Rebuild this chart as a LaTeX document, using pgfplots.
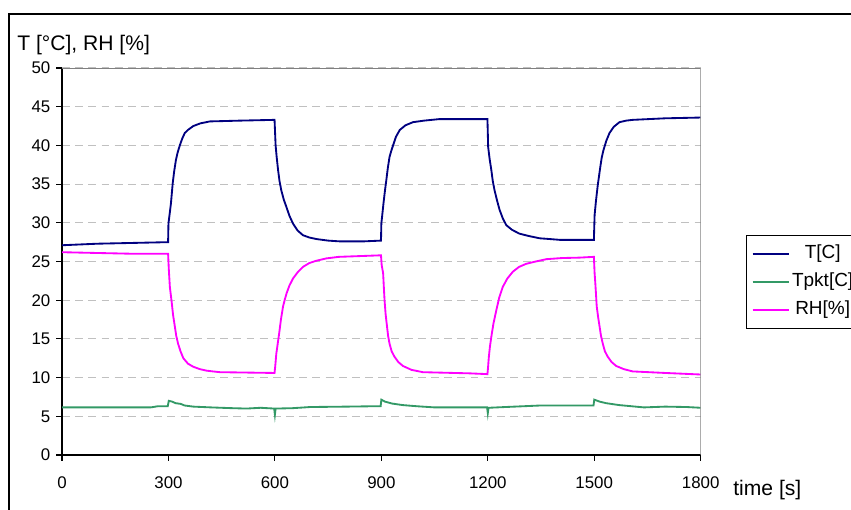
\documentclass[border=0pt]{standalone}
\usepackage{fontspec}
\setmainfont{Liberation Sans}
\usepackage{pgfplots}
\pgfplotsset{compat=1.18}
\usepackage{xcolor}
\definecolor{tnavy}{HTML}{000080}
\definecolor{tgreen}{HTML}{339966}
\definecolor{rhmag}{HTML}{FF00FF}
\definecolor{gridg}{HTML}{C0C0C0}
\definecolor{frameg}{HTML}{808080}

\pgfplotstableread{
t T
0 27.1
50 27.2
100 27.3
200 27.4
299 27.5
300 29.9
303 31.0
307 32.5
312 35.1
316 36.6
321 38.1
326 39.1
332 40.0
339 40.9
346 41.6
355 42.0
370 42.5
390 42.85
417 43.1
460 43.15
500 43.2
599 43.3
602 40.0
605 38.5
609 36.8
613 35.4
618 34.2
625 33.0
632 32.1
641 30.9
651 29.9
664 29.0
679 28.4
697 28.1
717 27.9
750 27.7
783 27.6
850 27.6
899 27.7
900 29.9
903 31.2
906 32.5
910 34.1
914 35.5
918 37.0
923 38.5
928 39.3
933 40.0
941 41.1
952 42.0
968 42.6
989 43.0
1020 43.2
1064 43.4
1199 43.4
1201 39.8
1205 38.3
1210 36.8
1214 35.4
1219 34.2
1226 32.9
1233 31.7
1242 30.6
1252 29.7
1268 29.1
1289 28.6
1315 28.3
1346 28.0
1375 27.9
1402 27.8
1499 27.8
1501 31.0
1505 32.9
1510 34.9
1517 37.2
1521 38.4
1526 39.4
1534 40.6
1543 41.6
1555 42.4
1571 43.0
1590 43.2
1608 43.3
1700 43.5
1800 43.6
}\tdata

\pgfplotstableread{
t Tp
0 6.15
100 6.15
250 6.15
270 6.3
298 6.3
301 7.0
310 6.9
320 6.7
335 6.6
345 6.4
370 6.25
420 6.15
480 6.05
520 6.0
560 6.1
598 6.0
600 5.2
602 6.0
650 6.05
700 6.2
800 6.25
880 6.3
898 6.3
900 7.15
910 6.9
930 6.65
960 6.45
1000 6.3
1050 6.15
1150 6.15
1198 6.15
1200 5.4
1202 6.1
1250 6.2
1300 6.3
1350 6.4
1450 6.4
1498 6.4
1500 7.15
1515 6.9
1533 6.7
1570 6.45
1640 6.15
1700 6.25
1760 6.2
1800 6.1
}\tpdata

\pgfplotstableread{
t RH
0 26.2
100 26.1
200 26.0
299 26.0
301 24.0
304 21.7
309 19.8
313 18.1
318 16.6
322 15.4
327 14.4
334 13.4
342 12.5
355 11.8
370 11.4
388 11.1
407 10.9
425 10.8
445 10.7
599 10.6
601 11.5
604 13.1
608 14.4
612 15.7
617 17.5
623 19.2
628 20.1
633 20.9
641 21.9
651 22.8
664 23.6
679 24.3
697 24.8
717 25.1
745 25.4
780 25.6
899 25.8
901 24.5
905 23.5
907 21.7
909 20.0
912 18.2
916 16.6
919 15.4
923 14.4
929 13.4
937 12.7
948 12.0
961 11.5
985 11.0
1017 10.7
1149 10.55
1199 10.45
1201 11.5
1203 12.7
1206 14.0
1210 15.3
1216 17.0
1224 18.7
1232 20.3
1242 21.7
1255 22.8
1271 23.7
1288 24.3
1308 24.7
1335 25.0
1365 25.3
1410 25.45
1458 25.5
1499 25.6
1501 23.5
1503 22.2
1505 20.7
1507 19.2
1511 17.8
1515 16.6
1519 15.4
1524 14.4
1530 13.4
1538 12.7
1549 12.0
1562 11.5
1583 11.1
1608 10.8
1700 10.6
1800 10.4
}\rhdata

\begin{document}
\begin{tikzpicture}
\useasboundingbox (0,0) rectangle (17.02cm,10.18cm);
% outer chart frame, running off the right and bottom edges
\draw[black, line width=0.6pt] (0.18cm,-1cm) -- (0.18cm,9.90cm) -- (18cm,9.90cm);
\node[anchor=west, inner sep=0pt, font=\fontsize{12}{14}\selectfont] at (0.34cm,9.28cm) {T [°C], RH [\%]};
\node[anchor=west, inner sep=0pt, font=\fontsize{12}{14}\selectfont] at (14.66cm,0.38cm) {time [s]};
\begin{axis}[
  at={(1.24cm,1.08cm)}, anchor=south west,
  scale only axis, width=12.774cm, height=7.74cm,
  xmin=0, xmax=1800, ymin=0, ymax=50,
  xtick={0,300,...,1800}, ytick={0,5,...,50},
  axis x line*=bottom, axis y line*=left,
  axis line style={-, black, line width=0.6pt},
  tick align=outside, major tick length=0.11cm,
  tick style={black, line width=0.6pt},
  ymajorgrids,
  major grid style={gridg, line width=0.6pt, dash pattern=on 4.5pt off 3pt},
  tick label style={font=\fontsize{9.6}{11}\selectfont},
  /pgf/number format/assume math mode=true,
  /pgf/number format/1000 sep={},
  xticklabel style={yshift=-0.2cm},
  legend style={at={(1.0709,0.5685)}, anchor=north west,
    draw=black, line width=0.6pt, font=\fontsize{10.8}{12.5}\selectfont,
    inner xsep=3pt, inner ysep=4pt, row sep=3pt,
    nodes={text height=7.8pt, text depth=2.3pt, inner sep=1.4pt}},
  legend cell align=center,
  legend image code/.code={\draw[#1] (0cm,0cm) -- (0.72cm,0cm);},
]
\addplot[tnavy, line width=1.05pt] table[x=t, y=T] {\tdata};
\addlegendentry{T[C]}
\addplot[tgreen, line width=1.05pt] table[x=t, y=Tp] {\tpdata};
\addlegendentry{Tpkt[C]}
\addplot[rhmag, line width=1.05pt] table[x=t, y=RH] {\rhdata};
\addlegendentry{RH[\%]}
\draw[frameg, line width=0.8pt] (rel axis cs:0,1) -- (rel axis cs:1,1) -- (rel axis cs:1,0);
\end{axis}
\end{tikzpicture}
\end{document}
